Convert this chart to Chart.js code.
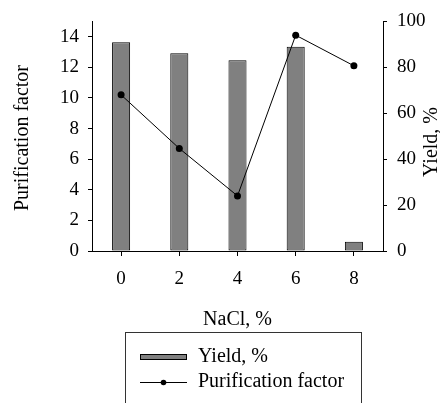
<!DOCTYPE html>
<html>
<head>
<meta charset="utf-8">
<script src="https://cdn.jsdelivr.net/npm/chart.js@4"></script>
<style>
  html,body{margin:0;padding:0;background:#fff;}
  #wrap{width:440px;height:403px;position:relative;}
</style>
</head>
<body>
<div id="wrap"><canvas id="chart"></canvas></div>
<script>
const nacl = ["0", "2", "4", "6", "8"];
const yieldPct = [90.9, 86.1, 83.1, 89.0, 4.0];
const purification = [10.2, 6.7, 3.6, 14.1, 12.1];
const leftTicks = [0, 2, 4, 6, 8, 10, 12, 14];
const rightTicks = [0, 20, 40, 60, 80, 100];

const FONT = "'Liberation Serif', 'Times New Roman', serif";

// axis titles + boxed legend drawn by hand (right title reads bottom-to-top, legend box runs off the bottom)
const extras = {
  id: "extras",
  afterDraw(chart){
    const ctx = chart.ctx;
    ctx.save();
    ctx.fillStyle = "#000";
    ctx.font = "20px " + FONT;
    ctx.textAlign = "center"; ctx.textBaseline = "middle";

    ctx.save(); ctx.translate(23, 138); ctx.rotate(-Math.PI/2);
    ctx.fillText("Purification factor", 0, 0); ctx.restore();

    ctx.save(); ctx.translate(432, 142); ctx.rotate(-Math.PI/2);
    ctx.fillText("Yield, %", 0, 0); ctx.restore();

    const ca = chart.chartArea;
    ctx.fillText("NaCl, %", (ca.left+ca.right)/2, 320);

    // legend
    ctx.strokeStyle = "#333"; ctx.lineWidth = 1;
    ctx.strokeRect(125.5, 332.5, 236, 100);
    ctx.fillStyle = "#808080";
    ctx.fillRect(140.5, 354.5, 46, 5);
    ctx.strokeStyle = "#000";
    ctx.strokeRect(140.5, 354.5, 46, 5);
    ctx.beginPath(); ctx.moveTo(140, 382.5); ctx.lineTo(187, 382.5); ctx.stroke();
    ctx.fillStyle = "#000";
    ctx.beginPath(); ctx.arc(163.5, 382.5, 2.8, 0, Math.PI*2); ctx.fill();
    ctx.textAlign = "left";
    ctx.fillText("Yield, %", 198, 357);
    ctx.fillText("Purification factor", 198, 382);
    ctx.restore();
  }
};

new Chart(document.getElementById("chart"), {
  data: {
    labels: nacl,
    datasets: [
      {
        type: "line", label: "Purification factor", data: purification, yAxisID: "yL",
        borderColor: "#000", borderWidth: 1, backgroundColor: "#000",
        pointRadius: 3.5, pointBackgroundColor: "#000", pointBorderWidth: 0, tension: 0, order: 0
      },
      {
        type: "bar", label: "Yield, %", data: yieldPct, yAxisID: "yR",
        backgroundColor: "#808080", borderColor: "#000", borderWidth: 1, borderSkipped: false,
        barPercentage: 0.31, categoryPercentage: 1, order: 1
      }
    ]
  },
  options: {
    responsive: true, maintainAspectRatio: false, animation: false,
    layout: { padding: { top: 20, left: 0, right: 0, bottom: 0 } },
    plugins: { legend: { display: false }, tooltip: { enabled: false } },
    scales: {
      x: {
        offset: true,
        grid: { offset: false, drawOnChartArea: false, drawTicks: true, tickLength: 5, color: "#000" },
        border: { display: true, color: "#000", width: 1 },
        ticks: { color: "#000", font: { family: FONT, size: 19 }, padding: 12, maxRotation: 0 },
        afterFit(s){ s.height = 403 - 20 - 231; }
      },
      yL: {
        position: "left", min: 0, max: 15,
        afterBuildTicks(s){ s.ticks = leftTicks.map(v => ({ value: v })); },
        grid: { drawOnChartArea: false, drawTicks: true, tickLength: 4, color: "#000" },
        border: { display: true, color: "#000", width: 1 },
        ticks: { color: "#000", font: { family: FONT, size: 19 }, padding: 9 },
        afterFit(s){ s.width = 92; }
      },
      yR: {
        position: "right", min: 0, max: 100,
        afterBuildTicks(s){ s.ticks = rightTicks.map(v => ({ value: v })); },
        grid: { drawOnChartArea: false, drawTicks: true, tickLength: 4, color: "#000" },
        border: { display: true, color: "#000", width: 1 },
        ticks: { color: "#000", font: { family: FONT, size: 19 }, padding: 10 },
        afterFit(s){ s.width = 440 - 383; }
      }
    }
  },
  plugins: [extras]
});
</script>
</body>
</html>
